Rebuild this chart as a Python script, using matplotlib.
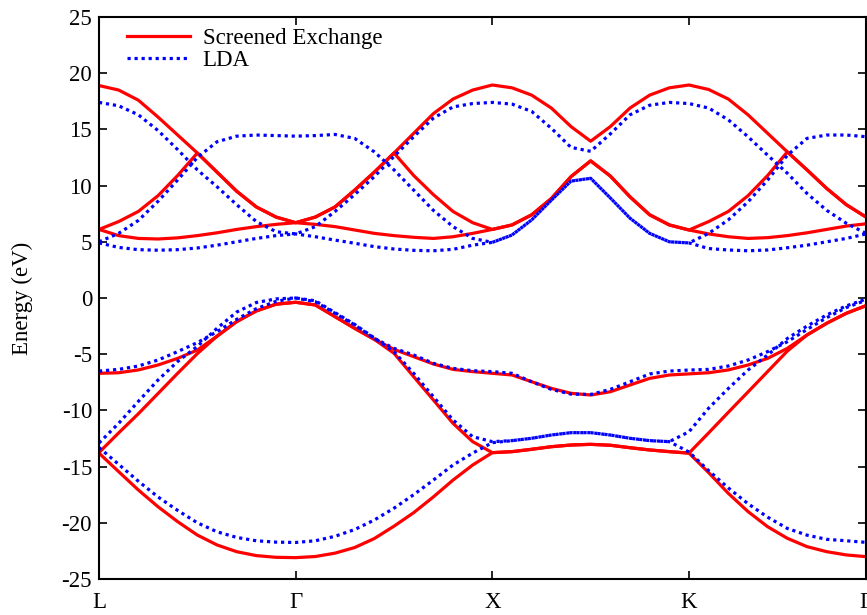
import matplotlib.pyplot as plt
import numpy as np

plt.rcParams['font.family'] = ['Liberation Serif', 'DejaVu Serif']
plt.rcParams['axes.unicode_minus'] = False

# k-path sampled every 0.1: L-G (0-1), G-X (1-2), X-K (2-3), K-G (3-3.9)
k = np.arange(40) / 10.0
sym_pos = [0, 1, 2, 3, 3.9]
sym_labels = ['L', 'Γ', 'X', 'K', 'Γ']

# screened exchange bands (eV)
sx_c1 = [18.9, 18.5, 17.6, 16.1, 14.5, 12.9, 11.2, 9.5, 8.1, 7.2, 6.7,
         7.2, 8.1, 9.6, 11.2, 12.9, 14.65, 16.4, 17.7, 18.5, 18.95,
         18.7, 18.05, 16.9, 15.25, 13.95, 15.25, 16.9, 18.05, 18.7, 18.95,
         18.55, 17.7, 16.3, 14.65, 13.0, 11.4, 9.75, 8.3, 7.2]
sx_c2 = [6.1, 6.8, 7.7, 9.1, 10.9, 12.9, 11.2, 9.5, 8.1, 7.2, 6.7,
         7.2, 8.1, 9.6, 11.2, 12.9, 10.9, 9.2, 7.7, 6.7, 6.1,
         6.5, 7.4, 8.85, 10.8, 12.2, 10.85, 9.0, 7.4, 6.5, 6.05,
         6.8, 7.7, 9.1, 10.9, 13.0, 11.4, 9.75, 8.3, 7.2]
sx_c3 = [6.1, 5.55, 5.3, 5.25, 5.35, 5.55, 5.8, 6.1, 6.35, 6.55, 6.7,
         6.55, 6.35, 6.05, 5.75, 5.55, 5.4, 5.3, 5.45, 5.75, 6.1,
         6.5, 7.4, 8.85, 10.8, 12.2, 10.85, 9.0, 7.4, 6.5, 6.05,
         5.7, 5.45, 5.3, 5.37, 5.55, 5.8, 6.1, 6.4, 6.6]
sx_v1 = [-6.7, -6.65, -6.4, -5.96, -5.37, -4.63, -3.4, -2.1, -1.15, -0.55, -0.38,
         -0.62, -1.66, -2.7, -3.68, -4.57, -5.22, -5.87, -6.35, -6.55, -6.7,
         -6.85, -7.45, -8.04, -8.48, -8.63, -8.34, -7.74, -7.15, -6.85, -6.75,
         -6.65, -6.4, -5.96, -5.37, -4.48, -3.29, -2.25, -1.36, -0.68]
sx_v2 = [-13.75, -12.0, -10.3, -8.5, -6.7, -4.95, -3.4, -2.1, -1.15, -0.55, -0.38,
         -0.62, -1.66, -2.7, -3.68, -4.92, -7.0, -9.07, -11.15, -12.78, -13.76,
         -13.67, -13.46, -13.23, -13.08, -13.02, -13.1, -13.32, -13.52, -13.67, -13.8,
         -12.0, -10.17, -8.36, -6.54, -4.72, -3.29, -2.25, -1.36, -0.68]
sx_v3 = [-13.8, -15.45, -17.08, -18.57, -19.9, -21.09, -21.97, -22.57, -22.92, -23.07, -23.1,
         -23.0, -22.7, -22.2, -21.4, -20.3, -19.1, -17.7, -16.2, -14.86, -13.76,
         -13.67, -13.46, -13.23, -13.08, -13.02, -13.1, -13.32, -13.52, -13.67, -13.8,
         -15.54, -17.38, -19.0, -20.35, -21.38, -22.12, -22.57, -22.86, -23.01]

# LDA bands (eV)
lda_c1 = [17.4, 17.1, 16.3, 14.9, 13.2, 11.4, 9.9, 8.3, 6.8, 5.9, 5.7,
          6.35, 7.7, 9.2, 10.8, 12.6, 14.35, 16.0, 17.0, 17.3, 17.4,
          17.25, 16.6, 15.1, 13.4, 13.05, 14.6, 16.3, 17.15, 17.4, 17.3,
          16.9, 15.85, 14.35, 12.7, 11.1, 9.3, 7.8, 6.65, 5.75]
lda_c2 = [5.0, 5.75, 6.9, 8.6, 10.5, 12.5, 13.9, 14.4, 14.5, 14.45, 14.4,
          14.45, 14.55, 14.2, 13.0, 11.4, 9.6, 7.8, 6.35, 5.3, 4.95,
          5.6, 6.95, 8.7, 10.4, 10.65, 8.9, 7.1, 5.75, 5.0, 4.9,
          5.75, 6.95, 8.55, 10.5, 12.7, 14.2, 14.5, 14.5, 14.35]
lda_c3 = [4.9, 4.5, 4.3, 4.25, 4.3, 4.45, 4.7, 5.0, 5.3, 5.55, 5.7,
          5.45, 5.15, 4.87, 4.57, 4.36, 4.24, 4.2, 4.33, 4.7, 4.95,
          5.6, 6.95, 8.7, 10.4, 10.65, 8.9, 7.1, 5.75, 5.0, 4.9,
          4.4, 4.27, 4.2, 4.27, 4.47, 4.7, 5.0, 5.3, 5.7]
lda_v1 = [-6.5, -6.35, -6.05, -5.52, -4.77, -3.97, -3.0, -1.9, -0.95, -0.3, 0.0,
          -0.33, -1.36, -2.4, -3.59, -4.48, -5.07, -5.81, -6.26, -6.47, -6.55,
          -6.7, -7.45, -8.13, -8.55, -8.58, -8.13, -7.45, -6.76, -6.5, -6.41,
          -6.35, -6.05, -5.52, -4.77, -3.89, -2.8, -1.75, -0.85, -0.2]
lda_v2 = [-12.9, -11.15, -9.2, -7.3, -5.65, -4.3, -2.7, -1.25, -0.4, -0.08, 0.0,
          -0.25, -1.3, -2.35, -3.55, -4.78, -6.7, -8.78, -10.85, -12.34, -12.78,
          -12.69, -12.48, -12.19, -11.98, -11.98, -12.19, -12.48, -12.69, -12.78, -11.9,
          -9.8, -8.05, -6.41, -5.07, -3.6, -2.5, -1.51, -0.7, -0.1]
lda_v3 = [-13.3, -14.8, -16.3, -17.7, -18.9, -20.0, -20.8, -21.3, -21.6, -21.72, -21.75,
          -21.6, -21.2, -20.6, -19.75, -18.7, -17.5, -16.2, -14.86, -13.8, -12.87,
          -12.69, -12.48, -12.19, -11.98, -11.98, -12.19, -12.48, -12.69, -12.78, -13.7,
          -15.36, -16.9, -18.3, -19.5, -20.5, -21.1, -21.47, -21.6, -21.74]

sx_bands = [sx_c1, sx_c2, sx_c3, sx_v1, sx_v2, sx_v3]
lda_bands = [lda_c1, lda_c2, lda_c3, lda_v1, lda_v2, lda_v3]

fig = plt.figure(figsize=(8.67, 6.15), dpi=100)
ax = fig.add_axes([99 / 867, 1 - 579 / 615, 767 / 867, 562 / 615])

for i, band in enumerate(sx_bands):
    ax.plot(k, band, color='red', lw=2.3, solid_joinstyle='round',
            label='Screened Exchange' if i == 0 else None)
for i, band in enumerate(lda_bands):
    ax.plot(k, band, color='blue', lw=2.3, ls=(0, (1, 1.2)),
            dash_capstyle='butt', label='LDA' if i == 0 else None)

ax.set_xlim(0, 3.9)
ax.set_ylim(-25, 25)
ax.set_xticks(sym_pos, sym_labels)
ax.set_yticks(range(-25, 26, 5))
ax.tick_params(direction='in', top=True, right=True, length=6, width=1.2,
               labelsize=16.5)
ax.tick_params(axis='x', pad=9)
ax.tick_params(axis='y', pad=5)
for s in ax.spines.values():
    s.set_linewidth(1.5)

ax.set_ylabel('Energy (eV)', fontsize=16.5)
ax.yaxis.set_label_coords(-0.086, 0.5)

ax.legend(loc='upper left', bbox_to_anchor=(28 / 767, 1 - 11 / 562),
          frameon=False, borderpad=0, borderaxespad=0, handlelength=2.75,
          handletextpad=0.55, labelspacing=0.05, fontsize=16.5)

fig.savefig('out.png', dpi=100)
